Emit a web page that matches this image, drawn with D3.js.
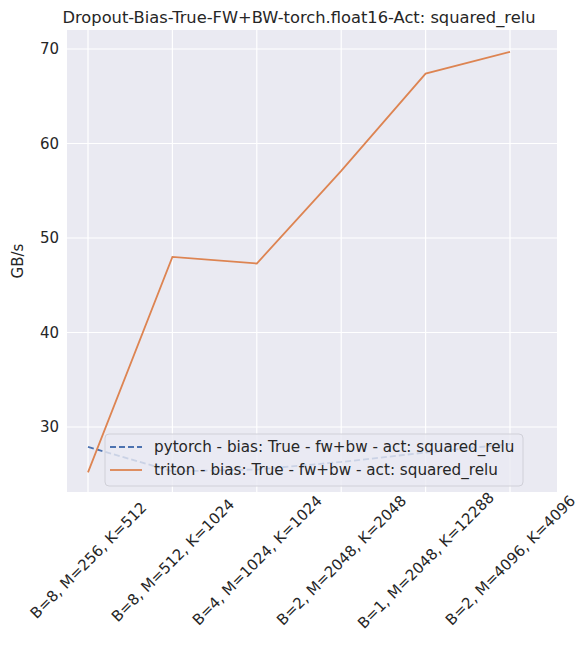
<!DOCTYPE html>
<html><head><meta charset="utf-8">
<script src="https://cdn.jsdelivr.net/npm/d3@7"></script>
<style>body{margin:0;background:#fff;font-family:"DejaVu Sans",sans-serif;}</style>
</head><body><div id="chart"></div>
<script>
var categories = ["B=8, M=256, K=512","B=8, M=512, K=1024","B=4, M=1024, K=1024","B=2, M=2048, K=2048","B=1, M=2048, K=12288","B=2, M=4096, K=4096"];
var pytorch = [27.9, 25.3, 25.5, 26.3, 27.3, 28.2];
var triton = [25.2, 48.0, 47.3, 57.1, 67.4, 69.7];
var yTicks = [30, 40, 50, 60, 70];

var W = 588, H = 660, L = 67, R = 557, T = 30, B = 492;
var svg = d3.select("#chart").append("svg").attr("width", W).attr("height", H);
svg.append("rect").attr("x", L).attr("y", T).attr("width", R - L).attr("height", B - T).attr("fill", "#eaeaf2");

var x = d3.scalePoint().domain(categories).range([88, 510]);
var y = d3.scaleLinear().domain([30, 70]).range([427, 49]);

svg.selectAll(".gx").data(categories).enter().append("line")
  .attr("x1", function(d){return x(d);}).attr("x2", function(d){return x(d);})
  .attr("y1", T).attr("y2", B).attr("stroke", "#fff").attr("stroke-width", 1.2);
svg.selectAll(".gy").data(yTicks).enter().append("line")
  .attr("x1", L).attr("x2", R).attr("y1", function(d){return y(d);}).attr("y2", function(d){return y(d);})
  .attr("stroke", "#fff").attr("stroke-width", 1.2);

svg.selectAll(".yt").data(yTicks).enter().append("text")
  .attr("x", L - 8).attr("y", function(d){return y(d) + 5;}).attr("text-anchor", "end")
  .attr("font-size", 15).attr("fill", "#262626").text(function(d){return d;});
svg.selectAll(".xt").data(categories).enter().append("text")
  .attr("transform", function(d){return "translate(" + (x(d) + 4) + "," + (B + 72) + ") rotate(-45)";})
  .attr("text-anchor", "middle").attr("font-size", 15).attr("fill", "#262626").text(function(d){return d;});

svg.append("text").attr("transform", "translate(23," + ((T + B) / 2) + ") rotate(-90)")
  .attr("text-anchor", "middle").attr("font-size", 15).attr("fill", "#262626").text("GB/s");
svg.append("text").attr("x", (L + R) / 2 - 13).attr("y", 23).attr("text-anchor", "middle")
  .attr("font-size", 16.3).attr("fill", "#262626").text("Dropout-Bias-True-FW+BW-torch.float16-Act: squared_relu");

var line = d3.line().x(function(d, i){return x(categories[i]);}).y(function(d){return y(d);});
svg.append("path").attr("d", line(pytorch)).attr("fill", "none").attr("stroke", "#4c72b0")
  .attr("stroke-width", 1.8).attr("stroke-dasharray", "6,3");
svg.append("path").attr("d", line(triton)).attr("fill", "none").attr("stroke", "#dd8452").attr("stroke-width", 1.8);

var lg = svg.append("g");
lg.append("rect").attr("x", 105).attr("y", 434).attr("width", 418).attr("height", 52).attr("rx", 4)
  .attr("fill", "#eaeaf2").attr("fill-opacity", 0.8).attr("stroke", "#d0d0d8");
var items = [["pytorch - bias: True - fw+bw - act: squared_relu", "#4c72b0", "6,3"], ["triton - bias: True - fw+bw - act: squared_relu", "#dd8452", null]];
items.forEach(function(it, i){
  var yy = 447 + i * 23;
  var l = lg.append("line").attr("x1", 110).attr("x2", 142).attr("y1", yy).attr("y2", yy)
    .attr("stroke", it[1]).attr("stroke-width", 1.8);
  if (it[2]) l.attr("stroke-dasharray", it[2]);
  lg.append("text").attr("x", 154).attr("y", yy + 5).attr("font-size", 15.2).attr("fill", "#262626").text(it[0]);
});
</script></body></html>
